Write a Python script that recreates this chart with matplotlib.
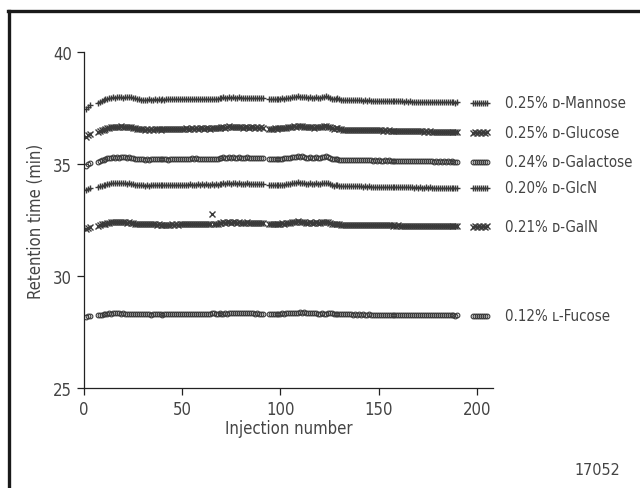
import matplotlib
matplotlib.use("Agg")
import matplotlib.pyplot as plt
from matplotlib.lines import Line2D

# Injection numbers (segments with gaps)
injections = list(range(1, 4)) + list(range(7, 92)) + list(range(94, 191)) + list(range(198, 206))

mannose = [37.45, 37.55, 37.62,
    37.72, 37.78, 37.80, 37.85, 37.88, 37.90, 37.93, 37.95, 37.97, 37.96,
    37.98, 37.97, 37.99, 37.96, 37.98, 37.97, 38.00, 37.97, 37.95, 37.93,
    37.90, 37.88, 37.87, 37.86, 37.87, 37.86, 37.88, 37.86, 37.87, 37.88,
    37.87, 37.88, 37.86, 37.88, 37.87, 37.89, 37.88, 37.88, 37.89, 37.90,
    37.89, 37.90, 37.89, 37.91, 37.90, 37.91, 37.90, 37.92, 37.91, 37.90,
    37.91, 37.92, 37.91, 37.92, 37.91, 37.92, 37.91, 37.90, 37.92, 37.91,
    37.92, 37.91, 37.93, 37.95, 37.97, 37.94, 37.96, 37.98, 37.95, 37.97,
    37.96, 37.95, 37.97, 37.96, 37.94, 37.95, 37.96, 37.93, 37.94, 37.95,
    37.94, 37.95, 37.93, 37.94, 37.93,
    37.90, 37.91, 37.90, 37.91, 37.92, 37.91, 37.92, 37.93, 37.92, 37.94,
    37.95, 37.96, 37.98, 38.00, 37.99, 38.02, 38.00, 38.01, 37.98, 37.97,
    37.95, 37.98, 37.96, 37.94, 37.97, 37.95, 37.96, 37.97, 37.99, 38.02,
    38.00, 37.96, 37.92, 37.90, 37.92, 37.93, 37.90, 37.87, 37.86, 37.85,
    37.86, 37.85, 37.84, 37.85, 37.84, 37.85, 37.84, 37.84, 37.83, 37.84,
    37.83, 37.84, 37.83, 37.82, 37.83, 37.82, 37.83, 37.82, 37.81, 37.82,
    37.81, 37.82, 37.81, 37.80, 37.81, 37.80, 37.81, 37.80, 37.80, 37.79,
    37.80, 37.79, 37.80, 37.79, 37.78, 37.79, 37.78, 37.79, 37.78, 37.77,
    37.78, 37.77, 37.78, 37.77, 37.76, 37.77, 37.76, 37.77, 37.76, 37.76,
    37.75, 37.76, 37.75, 37.76, 37.75, 37.74, 37.75,
    37.72, 37.73, 37.72, 37.73, 37.72, 37.73, 37.72, 37.73]

glucose = [36.20, 36.28, 36.35,
    36.42, 36.47, 36.50, 36.54, 36.57, 36.60, 36.62, 36.64, 36.66, 36.65,
    36.67, 36.65, 36.68, 36.66, 36.67, 36.64, 36.66, 36.63, 36.61, 36.60,
    36.58, 36.57, 36.55, 36.56, 36.54, 36.55, 36.53, 36.55, 36.54, 36.56,
    36.55, 36.57, 36.54, 36.56, 36.55, 36.57, 36.56, 36.55, 36.57, 36.56,
    36.58, 36.57, 36.58, 36.56, 36.58, 36.59, 36.57, 36.58, 36.59, 36.58,
    36.59, 36.58, 36.60, 36.59, 36.58, 36.60, 36.59, 36.58, 36.60, 36.59,
    36.60, 36.59, 36.61, 36.63, 36.66, 36.62, 36.65, 36.68, 36.64, 36.67,
    36.65, 36.63, 36.66, 36.64, 36.62, 36.64, 36.66, 36.62, 36.63, 36.65,
    36.62, 36.64, 36.61, 36.63, 36.62,
    36.57, 36.58, 36.57, 36.59, 36.58, 36.59, 36.60, 36.59, 36.61, 36.62,
    36.63, 36.65, 36.67, 36.69, 36.66, 36.70, 36.68, 36.71, 36.67, 36.65,
    36.63, 36.67, 36.64, 36.62, 36.66, 36.63, 36.64, 36.66, 36.68, 36.70,
    36.67, 36.63, 36.59, 36.57, 36.59, 36.60, 36.57, 36.55, 36.54, 36.53,
    36.54, 36.53, 36.52, 36.53, 36.52, 36.53, 36.52, 36.52, 36.51, 36.52,
    36.51, 36.52, 36.51, 36.50, 36.51, 36.50, 36.51, 36.50, 36.49, 36.50,
    36.49, 36.50, 36.49, 36.48, 36.49, 36.48, 36.49, 36.48, 36.48, 36.47,
    36.48, 36.47, 36.48, 36.47, 36.46, 36.47, 36.46, 36.47, 36.46, 36.45,
    36.46, 36.45, 36.46, 36.45, 36.44, 36.45, 36.44, 36.45, 36.44, 36.44,
    36.43, 36.44, 36.43, 36.44, 36.43, 36.42, 36.43,
    36.40, 36.41, 36.40, 36.41, 36.40, 36.41, 36.40, 36.41]

galactose = [34.92, 34.98, 35.04,
    35.10, 35.14, 35.17, 35.20, 35.23, 35.25, 35.27, 35.29, 35.30, 35.29,
    35.31, 35.29, 35.32, 35.30, 35.31, 35.28, 35.30, 35.27, 35.25, 35.24,
    35.23, 35.22, 35.21, 35.22, 35.20, 35.21, 35.20, 35.22, 35.21, 35.23,
    35.22, 35.24, 35.21, 35.23, 35.22, 35.21, 35.20, 35.21, 35.22, 35.21,
    35.22, 35.21, 35.23, 35.22, 35.24, 35.23, 35.22, 35.24, 35.25, 35.24,
    35.25, 35.24, 35.23, 35.24, 35.23, 35.24, 35.22, 35.23, 35.24, 35.23,
    35.24, 35.23, 35.25, 35.27, 35.30, 35.27, 35.29, 35.32, 35.28, 35.30,
    35.29, 35.27, 35.30, 35.28, 35.26, 35.28, 35.30, 35.27, 35.28, 35.29,
    35.27, 35.28, 35.26, 35.27, 35.26,
    35.21, 35.22, 35.21, 35.23, 35.22, 35.23, 35.24, 35.23, 35.25, 35.26,
    35.27, 35.29, 35.31, 35.33, 35.30, 35.35, 35.32, 35.34, 35.31, 35.29,
    35.27, 35.31, 35.28, 35.26, 35.30, 35.27, 35.28, 35.30, 35.32, 35.34,
    35.31, 35.27, 35.23, 35.21, 35.23, 35.22, 35.20, 35.19, 35.18, 35.18,
    35.19, 35.18, 35.17, 35.18, 35.17, 35.18, 35.17, 35.17, 35.16, 35.17,
    35.16, 35.17, 35.16, 35.15, 35.16, 35.15, 35.16, 35.15, 35.15, 35.16,
    35.15, 35.16, 35.15, 35.14, 35.15, 35.14, 35.15, 35.14, 35.14, 35.13,
    35.14, 35.13, 35.14, 35.13, 35.12, 35.13, 35.12, 35.13, 35.12, 35.12,
    35.13, 35.12, 35.13, 35.12, 35.11, 35.12, 35.11, 35.12, 35.11, 35.12,
    35.11, 35.12, 35.11, 35.12, 35.11, 35.10, 35.11,
    35.08, 35.09, 35.08, 35.09, 35.08, 35.09, 35.08, 35.09]

glcn = [33.82, 33.88, 33.94,
    33.98, 34.01, 34.04, 34.06, 34.08, 34.10, 34.12, 34.13, 34.14, 34.13,
    34.15, 34.13, 34.16, 34.14, 34.15, 34.12, 34.14, 34.11, 34.09, 34.08,
    34.07, 34.06, 34.05, 34.06, 34.04, 34.05, 34.04, 34.06, 34.05, 34.06,
    34.05, 34.07, 34.05, 34.06, 34.05, 34.06, 34.05, 34.06, 34.07, 34.06,
    34.07, 34.06, 34.08, 34.07, 34.08, 34.07, 34.08, 34.09, 34.08, 34.07,
    34.08, 34.09, 34.08, 34.09, 34.08, 34.09, 34.08, 34.07, 34.09, 34.08,
    34.09, 34.08, 34.10, 34.12, 34.14, 34.11, 34.13, 34.15, 34.12, 34.14,
    34.13, 34.11, 34.14, 34.12, 34.10, 34.12, 34.13, 34.10, 34.11, 34.12,
    34.10, 34.11, 34.09, 34.10, 34.09,
    34.05, 34.06, 34.05, 34.06, 34.07, 34.06, 34.07, 34.08, 34.07, 34.09,
    34.10, 34.12, 34.14, 34.16, 34.14, 34.18, 34.15, 34.17, 34.14, 34.12,
    34.10, 34.14, 34.11, 34.09, 34.13, 34.10, 34.11, 34.13, 34.15, 34.17,
    34.14, 34.10, 34.06, 34.04, 34.06, 34.05, 34.03, 34.02, 34.01, 34.01,
    34.02, 34.01, 34.00, 34.01, 34.00, 34.01, 34.00, 34.00, 33.99, 34.00,
    33.99, 34.00, 33.99, 33.98, 33.99, 33.98, 33.99, 33.98, 33.98, 33.99,
    33.98, 33.99, 33.98, 33.97, 33.98, 33.97, 33.98, 33.97, 33.97, 33.96,
    33.97, 33.96, 33.97, 33.96, 33.95, 33.96, 33.95, 33.96, 33.95, 33.95,
    33.96, 33.95, 33.96, 33.95, 33.94, 33.95, 33.94, 33.95, 33.94, 33.95,
    33.94, 33.95, 33.94, 33.95, 33.94, 33.93, 33.94,
    33.92, 33.93, 33.92, 33.93, 33.92, 33.93, 33.92, 33.93]

galn = [32.10, 32.15, 32.20,
    32.24, 32.27, 32.30, 32.32, 32.34, 32.36, 32.38, 32.39, 32.40, 32.39,
    32.41, 32.39, 32.42, 32.40, 32.41, 32.38, 32.40, 32.37, 32.35, 32.34,
    32.33, 32.32, 32.31, 32.32, 32.30, 32.31, 32.30, 32.32, 32.31, 32.30,
    32.29, 32.30, 32.28, 32.29, 32.28, 32.29, 32.28, 32.29, 32.30, 32.29,
    32.30, 32.29, 32.31, 32.30, 32.31, 32.32, 32.31, 32.32, 32.33, 32.32,
    32.33, 32.32, 32.33, 32.34, 32.33, 32.34, 32.33, 32.32, 32.75, 32.33,
    32.34, 32.33, 32.35, 32.37, 32.40, 32.37, 32.39, 32.42, 32.38, 32.40,
    32.39, 32.37, 32.40, 32.38, 32.36, 32.38, 32.39, 32.36, 32.37, 32.38,
    32.36, 32.37, 32.35, 32.36, 32.35,
    32.32, 32.33, 32.32, 32.33, 32.34, 32.33, 32.34, 32.35, 32.34, 32.36,
    32.37, 32.38, 32.40, 32.42, 32.40, 32.44, 32.41, 32.43, 32.40, 32.38,
    32.36, 32.40, 32.37, 32.35, 32.39, 32.36, 32.37, 32.39, 32.41, 32.43,
    32.40, 32.36, 32.33, 32.31, 32.33, 32.32, 32.30, 32.29, 32.29, 32.28,
    32.29, 32.28, 32.28, 32.29, 32.28, 32.28, 32.27, 32.28, 32.27, 32.28,
    32.27, 32.28, 32.27, 32.27, 32.26, 32.27, 32.26, 32.27, 32.26, 32.27,
    32.26, 32.27, 32.26, 32.25, 32.26, 32.25, 32.26, 32.25, 32.25, 32.24,
    32.25, 32.24, 32.25, 32.24, 32.23, 32.24, 32.23, 32.24, 32.23, 32.23,
    32.24, 32.23, 32.24, 32.23, 32.22, 32.23, 32.22, 32.23, 32.22, 32.23,
    32.22, 32.23, 32.22, 32.23, 32.22, 32.21, 32.22,
    32.20, 32.21, 32.20, 32.21, 32.20, 32.21, 32.20, 32.21]

fucose = [28.18, 28.20, 28.22,
    28.25, 28.27, 28.28, 28.30, 28.31, 28.32, 28.33, 28.32, 28.33, 28.34,
    28.33, 28.34, 28.32, 28.33, 28.32, 28.31, 28.32, 28.30, 28.31, 28.30,
    28.29, 28.30, 28.29, 28.30, 28.29, 28.30, 28.29, 28.28, 28.29, 28.30,
    28.29, 28.30, 28.29, 28.28, 28.29, 28.30, 28.29, 28.30, 28.31, 28.30,
    28.31, 28.30, 28.31, 28.32, 28.31, 28.32, 28.31, 28.30, 28.31, 28.32,
    28.31, 28.30, 28.32, 28.31, 28.30, 28.31, 28.32, 28.31, 28.33, 28.36,
    28.32, 28.31, 28.33, 28.32, 28.31, 28.33, 28.32, 28.34, 28.33, 28.35,
    28.36, 28.34, 28.37, 28.35, 28.36, 28.34, 28.33, 28.35, 28.34, 28.33,
    28.32, 28.33, 28.32, 28.31, 28.32,
    28.30, 28.31, 28.30, 28.31, 28.32, 28.31, 28.32, 28.33, 28.32, 28.34,
    28.33, 28.35, 28.36, 28.34, 28.37, 28.36, 28.38, 28.37, 28.39, 28.36,
    28.35, 28.37, 28.34, 28.33, 28.35, 28.32, 28.31, 28.33, 28.30, 28.32,
    28.34, 28.36, 28.33, 28.31, 28.32, 28.30, 28.31, 28.30, 28.29, 28.30,
    28.29, 28.30, 28.29, 28.28, 28.29, 28.28, 28.29, 28.28, 28.29, 28.28,
    28.28, 28.29, 28.28, 28.27, 28.28, 28.27, 28.28, 28.27, 28.27, 28.28,
    28.27, 28.28, 28.27, 28.26, 28.27, 28.26, 28.27, 28.26, 28.26, 28.25,
    28.26, 28.25, 28.26, 28.25, 28.25, 28.26, 28.25, 28.26, 28.25, 28.25,
    28.26, 28.25, 28.26, 28.25, 28.24, 28.25, 28.24, 28.25, 28.24, 28.25,
    28.24, 28.25, 28.24, 28.25, 28.24, 28.23, 28.24,
    28.22, 28.23, 28.22, 28.23, 28.22, 28.23, 28.22, 28.23]

series_labels = ["0.25% \u1d05-Mannose", "0.25% \u1d05-Glucose", "0.24% \u1d05-Galactose",
                 "0.20% \u1d05-GlcN", "0.21% \u1d05-GalN", "0.12% \u029f-Fucose"]
series_values = [mannose, glucose, galactose, glcn, galn, fucose]
series_markers = ["+", "x", "o", "+", "x", "o"]
label_y = [37.75, 36.42, 35.12, 33.93, 32.2, 28.22]

x_ticks = [0, 50, 100, 150, 200]
y_ticks = [25, 30, 35, 40]

FONT = ["DejaVu Sans"]
plt.rcParams["font.family"] = FONT
plt.rcParams["font.stretch"] = "condensed"
col = "#3a3a3a"

fig = plt.figure(figsize=(6.4, 4.89), dpi=100)
ax = fig.add_axes([0.131, 0.2045, 0.639, 0.6871])

for vals, m in zip(series_values, series_markers):
    if m == "o":
        ax.plot(injections, vals, linestyle="none", marker="o", markersize=3.4,
                markerfacecolor="none", markeredgecolor=col, markeredgewidth=0.8)
    else:
        ax.plot(injections, vals, linestyle="none", marker=m, markersize=4.4,
                markeredgecolor=col, markeredgewidth=1.0, color=col)

for lab, y in zip(series_labels, label_y):
    ax.text(214, y, lab, ha="left", va="center", fontsize=10.8, color="#444444",
            clip_on=False, fontstretch="condensed")

ax.set_xlim(0, 208)
ax.set_ylim(25, 40)
ax.set_xticks(x_ticks)
ax.set_yticks(y_ticks)
for s in ["top", "right"]:
    ax.spines[s].set_visible(False)
for s in ["left", "bottom"]:
    ax.spines[s].set_linewidth(0.9)
    ax.spines[s].set_color("#222222")
ax.tick_params(direction="out", length=5, width=0.9, labelsize=12, colors="#222222",
               labelcolor="#444444")
ax.set_xlabel("Injection number", fontsize=12, color="#444444", labelpad=1)
ax.set_ylabel("Retention time (min)", fontsize=12, color="#444444", labelpad=6)

fig.text(0.934, 0.038, "17052", fontsize=11.5, color="#444444", ha="center", va="center")

# outer frame (top and left border)
fig.add_artist(Line2D([0.013, 1.0], [0.976, 0.976], transform=fig.transFigure,
                      color="#1a1a1a", linewidth=2.4))
fig.add_artist(Line2D([0.014, 0.014], [0.0, 0.976], transform=fig.transFigure,
                      color="#1a1a1a", linewidth=2.4))

fig.savefig("out.png", dpi=100)
